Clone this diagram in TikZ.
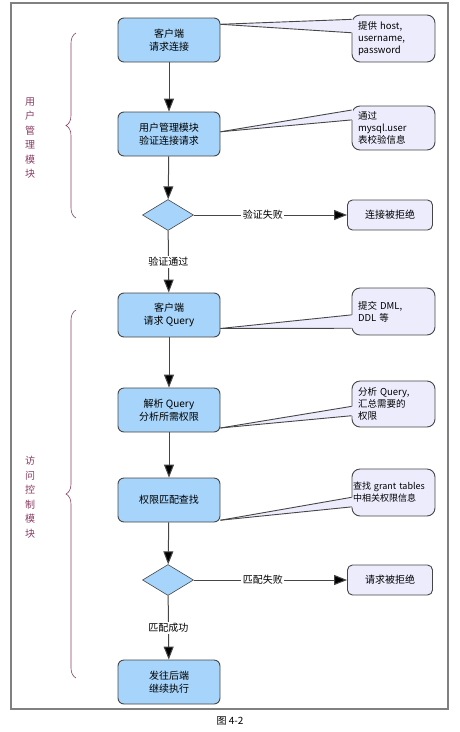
\documentclass[tikz,border=0pt]{standalone}
\usepackage{fontspec}
\setmainfont{Noto Sans CJK SC}
\usetikzlibrary{arrows.meta,shapes.geometric,decorations.pathreplacing,calc}
\definecolor{boxblue}{RGB}{166,212,250}
\definecolor{calloutlav}{RGB}{236,236,253}
\definecolor{edgegray}{RGB}{70,70,70}
\definecolor{bracepurple}{RGB}{139,60,100}
\tikzset{
procbox/.style={draw=edgegray,fill=boxblue,rounded corners=6pt,line width=0.9pt,
  minimum width=102pt,minimum height=44pt,align=center,inner sep=2pt,
  font=\fontsize{10}{13}\selectfont},
decision/.style={diamond,draw=edgegray,fill=boxblue,line width=0.6pt,
  minimum width=51pt,minimum height=31pt,inner sep=0pt},
rejectbox/.style={draw=edgegray,fill=calloutlav,rounded corners=5pt,line width=0.9pt,
  minimum width=85pt,minimum height=30pt,font=\fontsize{10}{12}\selectfont},
callout/.style={draw=edgegray,fill=calloutlav,rounded corners=8pt,line width=0.9pt,
  minimum width=83pt,align=left,text width=71pt,inner xsep=6pt,inner ysep=3pt,
  font=\fontsize{9.5}{12}\selectfont},
flow/.style={draw=edgegray,line width=1pt,-{Triangle[length=13pt,width=10pt,fill=black]}},
flowlabel/.style={fill=white,inner sep=1.5pt,font=\fontsize{10}{12}\selectfont},
modbrace/.style={draw=bracepurple,line width=0.6pt,decorate,decoration={brace,amplitude=10pt}},
modlabel/.style={text=bracepurple,align=center,font=\fontsize{10}{14.5}\selectfont}
}
\begin{document}
\begin{tikzpicture}[x=1pt,y=1pt,yscale=-1,xscale=1]
\useasboundingbox (0,0) rectangle (460,732);

%Frame
\draw [color=gray,line width=1.2pt] (11,3) rectangle (448,709);

%Process boxes
\node [procbox] (req) at (169,40) {客户端\\请求连接};
\node [procbox] (auth) at (169,134) {用户管理模块\\验证连接请求};
\node [decision] (authok) at (168,215) {};
\node [rejectbox] (deny) at (390,215) {连接被拒绝};
\node [procbox] (query) at (169,315) {客户端\\请求 Query};
\node [procbox] (parse) at (169,410) {解析 Query\\分析所需权限};
\node [procbox] (match) at (169,500) {权限匹配查找};
\node [decision] (matchok) at (168,580) {};
\node [rejectbox] (refuse) at (390,580) {请求被拒绝};
\node [procbox] (exec) at (169,682) {发往后端\\继续执行};

%Callouts
\node [callout,minimum height=47pt] (note1) at (393.5,38.5) {提供 host,\\username,\\password};
\node [callout,minimum height=44pt] (note2) at (393.5,128) {通过\\mysql.user\\表校验信息};
\node [callout,minimum height=47pt] (note3) at (393.5,311.5) {提交 DML,\\DDL 等};
\node [callout,minimum height=46pt] (note4) at (393.5,404) {分析 Query,\\汇总需要的\\权限};
\node [callout,minimum height=47pt,text width=81pt,inner xsep=1pt,
  font=\fontsize{9}{12}\selectfont] (note5) at (393.5,492.5) {查找 \mbox{grant tables}\\中相关权限信息};

%Callout tails
\foreach \src/\note/\a/\b/\c in {req/note1/0.15/0.1/0.38, auth/note2/0.45/0.1/0.32,
    query/note3/0.8/0.57/0.85, parse/note4/0.9/0.55/0.75, match/note5/0.95/0.6/0.8}{
  \coordinate (tip) at ($(\src.north east)!\a!(\src.south east)$);
  \coordinate (top) at ($(\note.north west)!\b!(\note.south west)$);
  \coordinate (bot) at ($(\note.north west)!\c!(\note.south west)$);
  \fill [calloutlav] (tip) -- ($(top)+(1.5,0)$) -- ($(bot)+(1.5,0)$) -- cycle;
  \draw [edgegray,line width=0.9pt] (tip) -- (top);
  \draw [edgegray,line width=0.9pt] (tip) -- (bot);
}

%Straight Lines
\draw [flow] (req) -- (auth);
\draw [flow] (auth) -- (authok);
\draw [flow] (authok) -- (deny) node [flowlabel,pos=0.45] {验证失败};
\draw [flow] (authok) -- (query) node [flowlabel,midway] {验证通过};
\draw [flow] (query) -- (parse);
\draw [flow] (parse) -- (match);
\draw [flow] (match) -- (matchok);
\draw [flow] (matchok) -- (refuse) node [flowlabel,pos=0.45] {匹配失败};
\draw [flow] (matchok) -- (exec) node [flowlabel,midway] {匹配成功};

%Braces
\draw [modbrace] (76,218) -- (76,33);
\draw [modbrace] (76,678) -- (76,310);

% Text Node
\node [modlabel] (usermod) at (30,138) {用\\户\\管\\理\\模\\块};
% Text Node
\node [modlabel] (accessmod) at (30,497) {访\\问\\控\\制\\模\\块};
% Text Node
\node [font=\fontsize{10}{12}\selectfont] (caption) at (230,721) {图 4-2};

\end{tikzpicture}
\end{document}
